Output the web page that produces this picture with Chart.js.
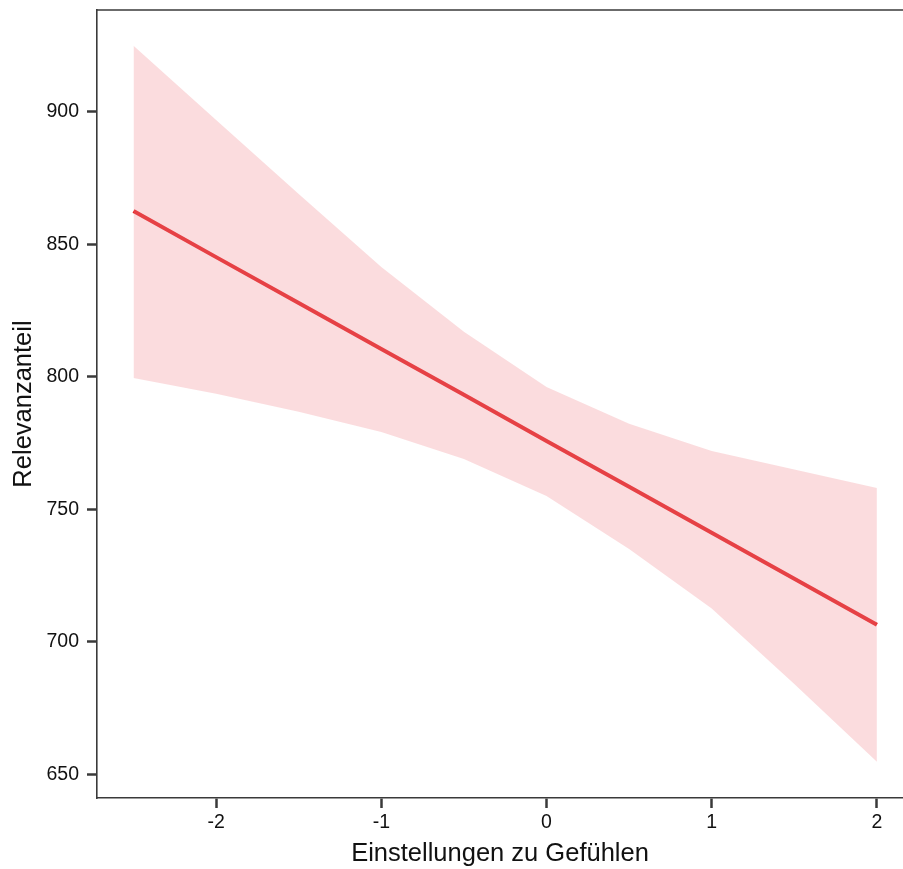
<!DOCTYPE html>
<html>
<head>
<meta charset="utf-8">
<script src="https://cdn.jsdelivr.net/npm/chart.js@4.4.0/dist/chart.umd.min.js"></script>
<style>
  html, body { margin: 0; padding: 0; background: #fff; }
  #wrap { width: 903px; height: 869px; }
</style>
</head>
<body>
<div id="wrap"><canvas id="effectChart"></canvas></div>
<script>
// Werte
const xValues = [-2.5, -2, -1.5, -1, -0.5, 0, 0.5, 1, 1.5, 2];
const fitValues = [862.6, 845.2, 827.9, 810.5, 793.2, 775.8, 758.5, 741.1, 723.8, 706.4];
const upperValues = [925, 897, 869, 841.5, 817, 796.2, 782.3, 772, 765, 758];
const lowerValues = [799.6, 793.6, 786.8, 779.2, 769, 755, 735, 712.5, 684, 654.7];
const xTicks = [-2, -1, 0, 1, 2];
const yTicks = [650, 700, 750, 800, 850, 900];

const toPoints = (ys) => xValues.map((x, i) => ({ x: x, y: ys[i] }));

const axisColor = '#3a3a3a';
const textColor = '#111';
const fontFamily = "'Liberation Sans', Arial, sans-serif";

const topBorder = {
    id: 'topBorder',
    afterDraw(chart) {
        const { ctx, chartArea } = chart;
        ctx.save();
        ctx.strokeStyle = axisColor;
        ctx.lineWidth = 1.6;
        ctx.beginPath();
        ctx.moveTo(chartArea.left, chartArea.top);
        ctx.lineTo(chartArea.right, chartArea.top);
        ctx.stroke();
        ctx.restore();
    }
};

document.addEventListener('DOMContentLoaded', function() {
    const ctx = document.querySelector('#effectChart').getContext('2d');
    new Chart(ctx, {
        type: 'line',
        data: {
            datasets: [
                {
                    label: 'upper',
                    data: toPoints(upperValues),
                    borderWidth: 0,
                    pointRadius: 0,
                    fill: '+1',
                    backgroundColor: 'rgba(242, 150, 155, 0.33)',
                    tension: 0
                },
                {
                    label: 'lower',
                    data: toPoints(lowerValues),
                    borderWidth: 0,
                    pointRadius: 0,
                    fill: false,
                    tension: 0
                },
                {
                    label: 'fit',
                    data: toPoints(fitValues),
                    borderColor: '#e0181b',
                    borderWidth: 4,
                    pointRadius: 0,
                    fill: false,
                    tension: 0
                }
            ]
        },
        options: {
            responsive: true,
            maintainAspectRatio: false,
            animation: false,
            layout: { padding: { top: 10, right: 0, left: 0, bottom: 0 } },
            plugins: {
                legend: { display: false },
                tooltip: { enabled: false }
            },
            scales: {
                x: {
                    type: 'linear',
                    min: -2.721,
                    max: 2.158,
                    afterBuildTicks: (scale) => { scale.ticks = xTicks.map(v => ({ value: v })); },
                    afterFit: (scale) => { scale.height = 71; scale.paddingLeft = 0; scale.paddingRight = 0; },
                    grid: { drawOnChartArea: false, drawTicks: true, tickLength: 10, tickWidth: 2.5, tickColor: axisColor },
                    border: { display: true, color: axisColor, width: 1.6 },
                    ticks: { color: textColor, padding: 3, font: { family: fontFamily, size: 19.5 }, maxRotation: 0 },
                    title: { display: true, text: 'Einstellungen zu Gefühlen', color: textColor, padding: { top: 0, bottom: 0 }, font: { family: fontFamily, size: 25.5 } }
                },
                y: {
                    type: 'linear',
                    min: 641,
                    max: 938.5,
                    afterBuildTicks: (scale) => { scale.ticks = yTicks.map(v => ({ value: v })); },
                    afterFit: (scale) => { scale.width = 97; scale.paddingTop = 0; scale.paddingBottom = 0; },
                    grid: { drawOnChartArea: false, drawTicks: true, tickLength: 10, tickWidth: 2.5, tickColor: axisColor },
                    border: { display: true, color: axisColor, width: 1.6 },
                    ticks: { color: textColor, padding: 8, font: { family: fontFamily, size: 19.5 } },
                    title: { display: true, text: 'Relevanzanteil', color: textColor, padding: { top: 9, bottom: 0 }, font: { family: fontFamily, size: 25.5 } }
                }
            }
        },
        plugins: [topBorder]
    });
});
</script>
</body>
</html>
